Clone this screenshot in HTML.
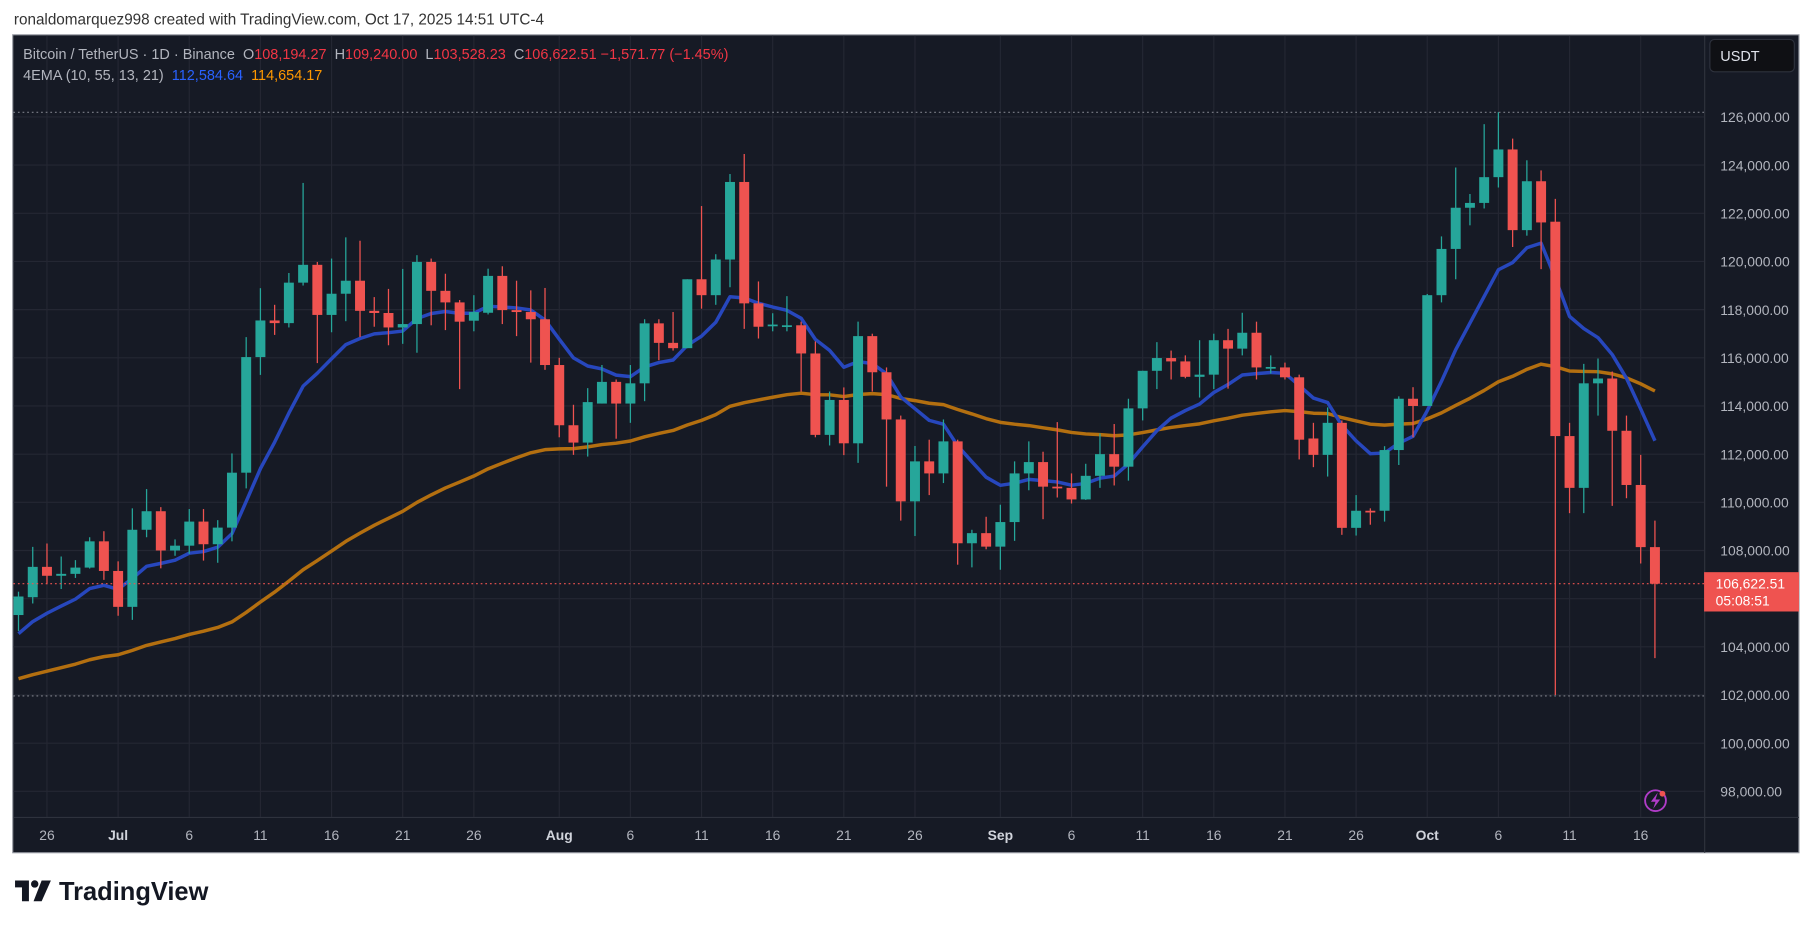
<!DOCTYPE html>
<html><head><meta charset="utf-8">
<style>
html,body{margin:0;padding:0;background:#fff;}
svg{display:block;}
text{font-family:"Liberation Sans",sans-serif;}
</style></head>
<body>
<svg id="s" width="1814" height="928" viewBox="0 0 1568 802" xmlns="http://www.w3.org/2000/svg">
<rect x="0" y="0" width="1568" height="802" fill="#ffffff"/>
<text x="12" y="21" font-size="13.2" fill="#333">ronaldomarquez998 created with TradingView.com, Oct 17, 2025 14:51 UTC-4</text>
<rect x="11" y="30" width="1544" height="707" fill="#161a25" stroke="#9598a1" stroke-width="1"/>
<g id="grid"></g>
<g id="ema"></g>
<g id="candles"></g>
<g id="over"></g>
</svg>
<script>
var d=[
[105.32,106.09,106.29,104.66],[106.06,107.32,108.15,105.8],[107.32,106.95,108.29,106.6],[106.95,107.03,107.75,106.4],[107.03,107.29,107.6,106.86],[107.29,108.38,108.55,107.25],[108.38,107.15,108.8,106.78],
[107.15,105.66,107.55,105.29],[105.66,108.86,109.75,105.12],[108.86,109.63,110.55,108.55],[109.63,108.0,109.8,107.26],[108.0,108.2,108.46,107.78],[108.2,109.2,109.72,107.86],[109.2,108.26,109.72,107.58],[108.26,108.95,109.26,107.49],[108.95,111.23,112.03,108.38],[111.23,116.03,116.86,110.58],[116.03,117.55,118.89,115.29],[117.55,117.44,118.2,116.95],[117.44,119.12,119.52,117.26],[119.12,119.86,123.26,119.0],[119.86,117.78,119.98,115.78],[117.78,118.66,120.12,117.06],[118.66,119.2,121.0,117.52],[119.2,117.95,120.86,116.86],[117.95,117.86,118.52,117.29],[117.86,117.26,118.86,116.52],[117.26,117.4,119.69,116.58],[117.4,119.98,120.26,116.21],[119.98,118.78,120.12,117.35],[118.78,118.3,119.49,117.15],
[118.3,117.5,118.4,114.7],[117.54,117.9,118.6,117.1],[117.87,119.4,119.7,117.8],[119.4,117.98,119.8,117.4],[117.98,117.9,119.2,116.9],[117.9,117.6,118.8,115.8],[117.6,115.7,118.9,115.5],
[115.7,113.2,116.0,112.7],[113.2,112.48,114.05,111.97],[112.48,114.16,114.74,111.9],[114.1,115.0,115.7,114.1],[115.0,114.1,115.1,112.64],[114.1,114.94,115.7,113.3],[114.94,117.43,117.6,114.2],[117.43,116.62,117.6,115.9],[116.62,116.4,117.9,116.3],[116.4,119.26,119.26,116.4],[119.26,118.6,122.3,118.04],[118.6,120.08,120.3,118.2],[120.08,123.3,123.63,118.93],[123.3,118.26,124.46,117.2],[118.26,117.29,119.17,116.8],[117.32,117.38,117.85,117.1],[117.35,117.35,118.56,117.1],[117.35,116.18,117.5,114.6],[116.18,112.8,116.68,112.7],[112.8,114.25,114.6,112.36],[114.25,112.45,114.77,111.96],[112.45,116.9,117.5,111.64],[116.9,115.4,117.0,114.6],
[115.4,113.44,115.6,110.65],[113.44,110.04,113.6,109.24],[110.04,111.7,112.34,108.6],[111.7,111.2,112.6,110.3],[111.2,112.53,113.44,110.8],[112.53,108.3,112.6,107.41],[108.3,108.72,108.86,107.3],[108.72,108.16,109.4,108.05],
[108.16,109.18,109.9,107.2],[109.18,111.2,111.7,108.4],[111.2,111.67,112.53,110.5],[111.67,110.65,112.1,109.3],[110.65,110.6,113.33,110.2],[110.6,110.12,111.2,109.95],[110.12,111.1,111.6,110.1],[111.1,112.0,112.86,110.6],[112.0,111.48,113.25,110.7],[111.48,113.9,114.3,110.9],[113.9,115.46,115.46,113.4],[115.46,115.99,116.65,114.7],[115.99,115.85,116.3,115.1],[115.85,115.21,116.1,115.15],[115.21,115.3,116.73,114.35],[115.3,116.73,117.0,114.7],[116.73,116.38,117.2,114.72],[116.38,117.04,117.87,116.1],[117.04,115.6,117.5,115.1],[115.6,115.62,116.1,115.35],[115.6,115.19,115.8,115.1],[115.19,112.6,115.3,111.78],[112.65,111.97,113.3,111.46],[111.97,113.3,113.94,111.07],[113.3,108.94,113.4,108.65],[108.94,109.65,110.3,108.62],[109.65,109.62,109.75,109.07],[109.65,112.17,112.33,109.2],[112.17,114.3,114.4,111.55],[114.3,114.0,114.78,112.7],
[114.0,118.6,118.65,114.0],[118.6,120.52,121.04,118.3],[120.52,122.23,123.9,119.26],[122.23,122.43,122.8,121.5],[122.43,123.5,125.7,122.2],[123.5,124.65,126.2,123.07],[124.65,121.3,125.1,120.6],[121.3,123.33,124.2,121.07],[123.33,121.62,123.78,119.68],[121.65,112.75,122.6,102.0],[112.75,110.6,113.3,109.55],[110.6,114.94,115.75,109.55],[114.94,115.14,115.97,113.6],[115.14,112.97,115.43,109.85],[112.97,110.72,113.6,110.17],[110.72,108.14,111.97,107.46],[108.14,106.62,109.24,103.53]
];
function Y(p){return 101+(126-p)*20.82;}
function X(i){return 16+i*12.3;}
var NS="http://www.w3.org/2000/svg";
function el(g,t,a,txt){var e=document.createElementNS(NS,t);for(var k in a)e.setAttribute(k,a[k]);if(txt!==undefined)e.textContent=txt;document.getElementById(g).appendChild(e);return e;}
// grid
for(var p=98;p<=126;p+=2){var y=Y(p);el("grid","line",{x1:11.5,x2:1473,y1:y,y2:y,stroke:"#242733","stroke-width":1});}
var labs=[["26",2],["Jul",7],["6",12],["11",17],["16",22],["21",27],["26",32],["Aug",38],["6",43],["11",48],["16",53],["21",58],["26",63],["Sep",69],["6",74],["11",79],["16",84],["21",89],["26",94],["Oct",99],["6",104],["11",109],["16",114]];
labs.forEach(function(l){var x=X(l[1]);el("grid","line",{x1:x,x2:x,y1:30.5,y2:706,stroke:"#242733","stroke-width":1});});
// ema
function ema(n,seed){var a=2/(n+1),v=seed,out=[];d.forEach(function(c){v=v+(c[1]-v)*a;out.push(v);});return out;}
function path(arr){return arr.map(function(v,i){return (i?"L":"M")+X(i).toFixed(1)+" "+Y(v).toFixed(1);}).join(" ");}
var e55=ema(55,102.55), e10=ema(10,104.2);
el("ema","path",{d:path(e55),stroke:"#b36f10",fill:"none","stroke-width":3,"stroke-linejoin":"round"});
el("ema","path",{d:path(e10),stroke:"#2747bd",fill:"none","stroke-width":3,"stroke-linejoin":"round"});
// candles
d.forEach(function(c,i){var up=c[1]>=c[0],col=up?"#26a69a":"#ef5350",x=X(i);
el("candles","line",{x1:x,x2:x,y1:Y(c[2]),y2:Y(c[3]),stroke:col,"stroke-width":1.1});
var t=Y(Math.max(c[0],c[1])),b=Y(Math.min(c[0],c[1]));if(b-t<1.5){b=t+1.5;}
el("candles","rect",{x:x-4.3,y:t,width:8.6,height:b-t,fill:col});});
// overlays
el("over","line",{x1:11.5,x2:1473,y1:97,y2:97,stroke:"#7c7f88","stroke-width":1,"stroke-dasharray":"1.5 2.5"});
el("over","line",{x1:11.5,x2:1473,y1:601.5,y2:601.5,stroke:"#7c7f88","stroke-width":1,"stroke-dasharray":"1.5 2.5"});
el("over","line",{x1:11.5,x2:1473,y1:Y(106.62),y2:Y(106.62),stroke:"#ef5350","stroke-width":1,"stroke-dasharray":"1.5 2.5"});
el("over","line",{x1:1473.5,x2:1473.5,y1:30.5,y2:737,stroke:"#2e323d","stroke-width":1});
el("over","line",{x1:11.5,x2:1555,y1:706.5,y2:706.5,stroke:"#2e323d","stroke-width":1});
for(var p=98;p<=126;p+=2){el("over","text",{x:1487,y:Y(p)+4.5,"font-size":"12","fill":"#b2b5be"},(p===100?"100":p)+",000.00");}
labs.forEach(function(l){var m=isNaN(+l[0]);el("over","text",{x:X(l[1]),y:726,"font-size":"12","fill":m?"#d1d4dc":"#b2b5be","font-weight":m?"bold":"normal","text-anchor":"middle"},l[0]);});
el("over","rect",{x:1478,y:34,width:73,height:28,rx:4,fill:"#0f1014",stroke:"#2e323d"});
el("over","text",{x:1487,y:52.5,"font-size":"12.5","fill":"#e0e3eb"},"USDT");
var yc=Y(106.62);
el("over","rect",{x:1473,y:yc-10,width:82,height:34,fill:"#ef5350"});
el("over","text",{x:1483,y:yc+4,"font-size":"12","fill":"#fff"},"106,622.51");
el("over","text",{x:1483,y:yc+19,"font-size":"12","fill":"#fff"},"05:08:51");
// legend
var t1=el("over","text",{x:20,y:51,"font-size":"12.5","fill":"#b2b5be"});
t1.innerHTML='Bitcoin / TetherUS · 1D · Binance  O<tspan fill="#f23645">108,194.27</tspan>  H<tspan fill="#f23645">109,240.00</tspan>  L<tspan fill="#f23645">103,528.23</tspan>  C<tspan fill="#f23645">106,622.51</tspan> <tspan fill="#f23645">−1,571.77 (−1.45%)</tspan>';
t1.setAttribute("xml:space","preserve");t1.style.whiteSpace="pre";
var t2=el("over","text",{x:20,y:69,"font-size":"12.5","fill":"#b2b5be"});
t2.innerHTML='4EMA (10, 55, 13, 21)  <tspan fill="#2962ff">112,584.64</tspan>  <tspan fill="#ff9800">114,654.17</tspan>';
t2.style.whiteSpace="pre";
// lightning icon
el("over","circle",{cx:1431,cy:692,r:9,fill:"none",stroke:"#b03cc8","stroke-width":1.6});
el("over","path",{d:"M1433 685 L1427 693 L1431 693 L1429 699 L1435 691 L1431 691 Z",fill:"#b03cc8"});
el("over","circle",{cx:1437,cy:686,r:2.5,fill:"#ef5350"});
// logo
el("over","path",{d:"M13 761 H25 V779 H19 V767 H13 Z",fill:"#131722"});
el("over","circle",{cx:30,cy:764,r:3.2,fill:"#131722"});
el("over","path",{d:"M36 761 H44 L36 779 H29 Z",fill:"#131722"});
el("over","text",{x:51,y:778,"font-size":"22","font-weight":"bold","fill":"#131722"},"TradingView");
</script>
</body></html>
